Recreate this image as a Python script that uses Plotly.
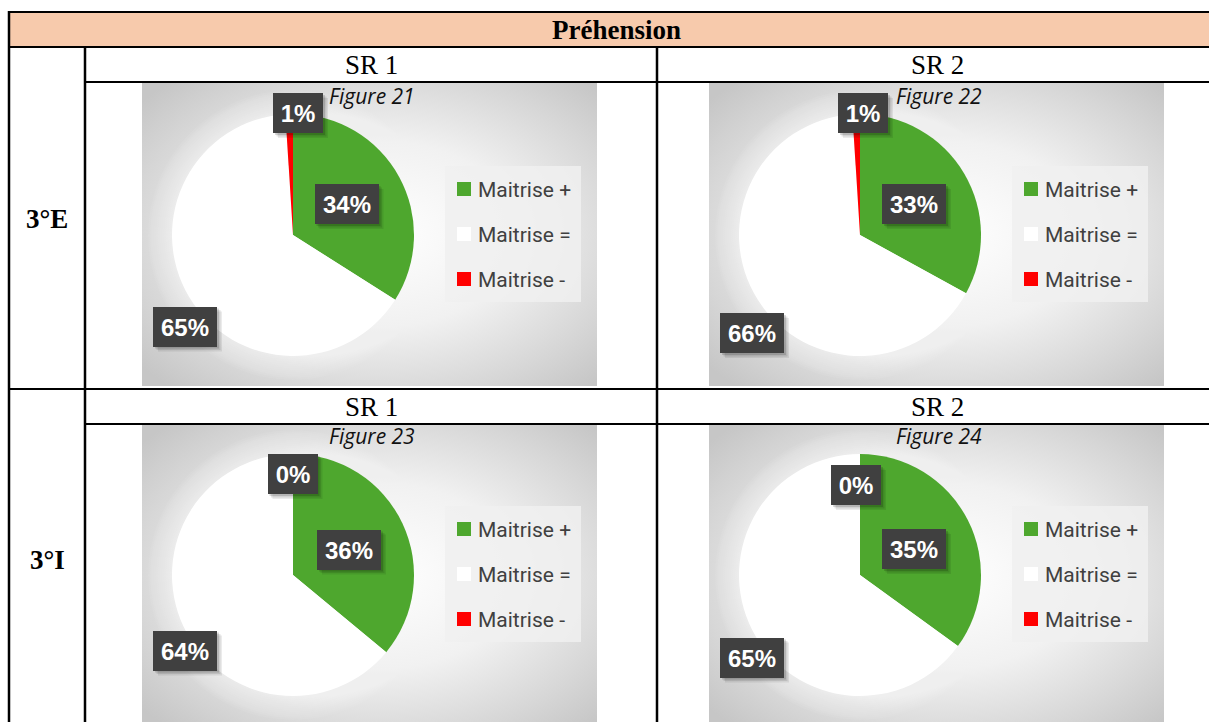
import base64
import plotly.graph_objects as go

# ---------------- data ----------------
table_title = "Préhension"
group_labels = ["3°E", "3°I"]
series_labels = ["SR 1", "SR 2"]
figure_titles = ["Figure 21", "Figure 22", "Figure 23", "Figure 24"]
categories = ["Maitrise +", "Maitrise =", "Maitrise -"]
values_fig21 = [34, 65, 1]
values_fig22 = [33, 66, 1]
values_fig23 = [36, 64, 0]
values_fig24 = [35, 65, 0]
all_values = [values_fig21, values_fig22, values_fig23, values_fig24]

# ---------------- style / layout ----------------
W, H = 1209, 722
colors = ["#4EA72E", "#FFFFFF", "#FF0000"]
def px(x):
    return x / W
def py(y):
    return 1 - y / H

col_dx = [0, 567]
row_chart_top = [82, 424]
row_dy = [0, 340]
chart_w, chart_h = 455, 304
pie_r = 121
# label box centre offsets from pie centre (pixels), per chart
label_offsets = [
    [(53.5, -31), (-108, 91.5), (5, -122)],
    [(54, -31), (-108, 98), (3, -122)],
    [(56, -25.5), (-108, 75.5), (-0.5, -101)],
    [(54, -26), (-108, 82.5), (-4, -90)],
]

svg = (
    "<svg xmlns='http://www.w3.org/2000/svg' width='455' height='304' viewBox='0 0 455 304' preserveAspectRatio='none'>"
    "<defs><radialGradient id='g' cx='52%' cy='50%' r='68%'>"
    "<stop offset='0' stop-color='#ffffff'/>"
    "<stop offset='0.45' stop-color='#f1f1f1'/>"
    "<stop offset='0.8' stop-color='#d6d6d6'/>"
    "<stop offset='1' stop-color='#c6c6c6'/>"
    "</radialGradient></defs>"
    "<rect width='455' height='304' fill='url(#g)'/></svg>"
)
svg_uri = "data:image/svg+xml;base64," + base64.b64encode(svg.encode()).decode()

fig = go.Figure()
shapes = []
annotations = []
images = []

# header fill
shapes.append(dict(type="rect", xref="paper", yref="paper", x0=px(9), x1=px(1240), y0=py(47), y1=py(12),
                   fillcolor="#F7CAAC", line=dict(width=0), layer="below"))

for idx in range(4):
    r = idx // 2
    c = idx % 2
    cx0 = 142 + col_dx[c]
    cy0 = row_chart_top[r]
    images.append(dict(source=svg_uri, xref="paper", yref="paper", x=px(cx0), y=py(cy0),
                       sizex=chart_w / W, sizey=chart_h / H, xanchor="left", yanchor="top",
                       sizing="stretch", layer="below"))
    pcx = 293 + col_dx[c]
    pcy = 235 + row_dy[r]
    # soft glow around pie (many thin steps to avoid banding)
    for g in range(24, 0, -2):
        shapes.append(dict(type="circle", xref="paper", yref="paper",
                           x0=px(pcx - pie_r - g), x1=px(pcx + pie_r + g),
                           y0=py(pcy + pie_r + g), y1=py(pcy - pie_r - g),
                           fillcolor="rgba(255,255,255,0.06)", line=dict(width=0), layer="below"))
    vals = all_values[idx]
    fig.add_trace(go.Pie(
        labels=categories, values=vals, sort=False, direction="clockwise", rotation=0,
        marker=dict(colors=colors, line=dict(width=0)), textinfo="none", showlegend=False,
        domain=dict(x=[px(pcx - pie_r), px(pcx + pie_r)], y=[py(pcy + pie_r), py(pcy - pie_r)]),
        hovertemplate="%{label}: %{value}%<extra></extra>",
    ))
    # title
    annotations.append(dict(xref="paper", yref="paper", x=px(cx0 + chart_w / 2 + 2), y=py(96 + row_dy[r]),
                            text="<i>" + figure_titles[idx] + "</i>", showarrow=False,
                            font=dict(family="Open Sans", size=21, color="#111111"),
                            xanchor="center", yanchor="middle"))
    # data labels
    for k, v in enumerate(vals):
        ox, oy = label_offsets[idx][k]
        lx, ly = pcx + ox, pcy + oy
        txt = "%d%%" % v
        bw = 50 if len(txt) == 2 else 64
        bh = 40
        for off, op in [(5, 0.08), (3.5, 0.1), (2, 0.14)]:
            shapes.append(dict(type="rect", xref="paper", yref="paper",
                               x0=px(lx - bw / 2 + off), x1=px(lx + bw / 2 + off),
                               y0=py(ly + bh / 2 + off), y1=py(ly - bh / 2 + off),
                               fillcolor="rgba(0,0,0,%s)" % op, line=dict(width=0)))
        annotations.append(dict(xref="paper", yref="paper", x=px(lx), y=py(ly), text="<b>" + txt + "</b>",
                                showarrow=False, xanchor="center", yanchor="middle",
                                width=bw, height=bh, bgcolor="#404040", borderpad=0, borderwidth=0,
                                font=dict(family="Liberation Sans", size=24, color="white")))
    # legend
    lgx0 = 445 + col_dx[c]
    lgy0 = 166 + row_dy[r]
    shapes.append(dict(type="rect", xref="paper", yref="paper", x0=px(lgx0), x1=px(lgx0 + 136),
                       y0=py(lgy0 + 136), y1=py(lgy0), fillcolor="rgba(240,240,240,0.85)", line=dict(width=0)))
    for k, cat in enumerate(categories):
        iy = 189 + 45 * k + row_dy[r]
        sx = 457 + col_dx[c]
        shapes.append(dict(type="rect", xref="paper", yref="paper", x0=px(sx), x1=px(sx + 14),
                           y0=py(iy + 7), y1=py(iy - 7), fillcolor=colors[k], line=dict(width=0)))
        annotations.append(dict(xref="paper", yref="paper", x=px(sx + 19), y=py(iy + 1), text=cat,
                                showarrow=False, xanchor="left", yanchor="middle",
                                font=dict(family="Roboto", size=21, color="#404040")))

# table text
annotations.append(dict(xref="paper", yref="paper", x=px(616), y=py(30), text="<b>" + table_title + "</b>",
                        showarrow=False, xanchor="center", yanchor="middle",
                        font=dict(family="Liberation Serif", size=27, color="black")))
for r, g in enumerate(group_labels):
    annotations.append(dict(xref="paper", yref="paper", x=px(47), y=py([219, 560][r]), text="<b>" + g + "</b>",
                            showarrow=False, xanchor="center", yanchor="middle",
                            font=dict(family="Liberation Serif", size=27, color="black")))
    for c, s in enumerate(series_labels):
        annotations.append(dict(xref="paper", yref="paper", x=px([371, 937][c]), y=py([65, 407][r]), text=s,
                                showarrow=False, xanchor="center", yanchor="middle",
                                font=dict(family="Liberation Serif", size=27, color="black")))

# table lines
def hline(y, x0, x1):
    shapes.append(dict(type="line", xref="paper", yref="paper", x0=px(x0), x1=px(x1), y0=py(y), y1=py(y),
                       line=dict(color="black", width=2)))
def vline(x, y0, y1):
    shapes.append(dict(type="line", xref="paper", yref="paper", x0=px(x), x1=px(x), y0=py(y0), y1=py(y1),
                       line=dict(color="black", width=2.5)))
hline(12, 8, 1240)
hline(47, 8, 1240)
hline(82, 85, 1240)
hline(389, 8, 1240)
hline(424, 85, 1240)
vline(9, 11, 740)
vline(85, 47, 740)
vline(657, 47, 740)

fig.update_layout(width=W, height=H, margin=dict(l=0, r=0, t=0, b=0), paper_bgcolor="white",
                  plot_bgcolor="white", shapes=shapes, annotations=annotations, images=images, autosize=False)

fig.write_html("out.html", config={"displayModeBar": False},
               post_script="document.body.style.margin='0';document.body.style.overflow='hidden';")
